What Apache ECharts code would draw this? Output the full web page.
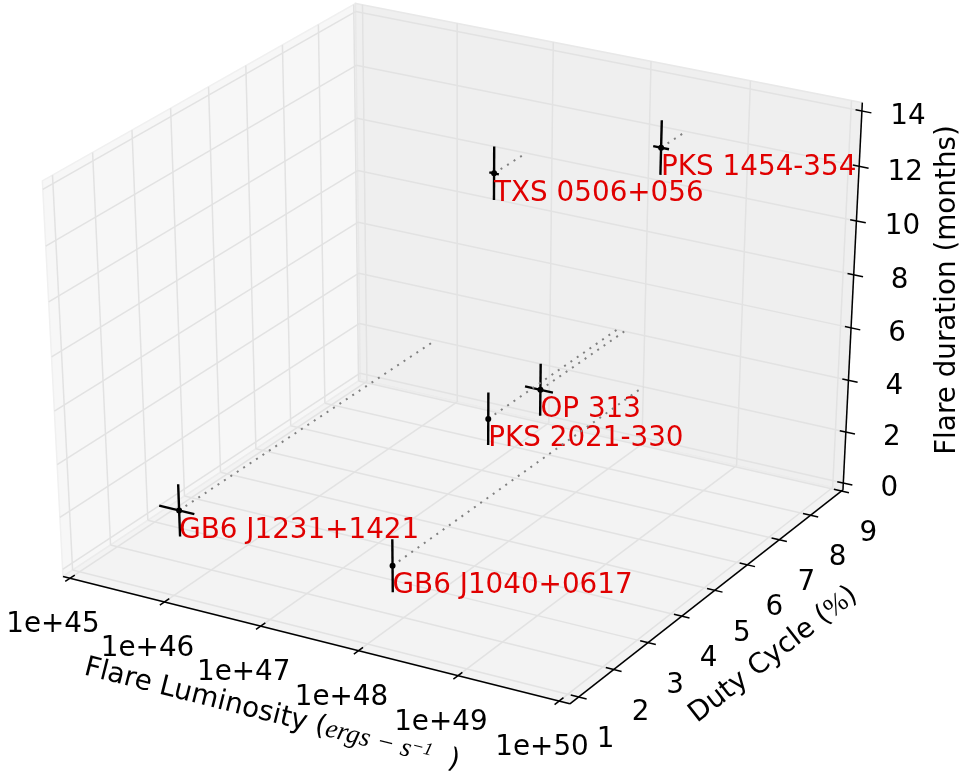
<!DOCTYPE html>
<html>
<head>
<meta charset="utf-8">
<script src="https://cdn.jsdelivr.net/npm/echarts@6/dist/echarts.min.js"></script>
<style>
html,body{margin:0;padding:0;background:#fff;}
#chart{width:976px;height:776px;}
</style>
</head>
<body>
<div id="chart"></div>
<script>
// ---------------- data ----------------
const sourceNames   = ['GB6 J1231+1421', 'TXS 0506+056', 'PKS 1454-354', 'OP 313', 'PKS 2021-330', 'GB6 J1040+0617'];
const logLuminosity = [45.76, 46.73, 48.37, 47.79, 47.71, 48.00];
const logLumLow     = [45.55, 46.68, 48.29, 47.63, 47.69, 47.98];
const logLumHigh    = [45.92, 46.78, 48.45, 47.92, 47.73, 48.02];
const dutyCycle     = [1.8, 8.1, 8.3, 6.5, 5.2, 1.7];
const flareDuration = [2, 10, 12, 4, 4, 2];
const durationErr   = [1, 1, 1, 1, 1, 1];

const xTickValues = [45, 46, 47, 48, 49, 50];
const xTickLabels = ['1e+45', '1e+46', '1e+47', '1e+48', '1e+49', '1e+50'];
const yTickValues = [1, 2, 3, 4, 5, 6, 7, 8, 9];
const yTickLabels = ['1', '2', '3', '4', '5', '6', '7', '8', '9'];
const zTickValues = [0, 2, 4, 6, 8, 10, 12, 14];
const zTickLabels = ['0', '2', '4', '6', '8', '10', '12', '14'];

const X_RANGE = [44.925, 50.106];
const Y_RANGE = [0.75, 9.05];
const Z_RANGE = [-0.27, 14.30];

// ---------------- 3D view (mplot3d style) ----------------
const ELEV = 30, AZIM = -60, DIST = 10;
const W = 976, H = 776;
const OX = 459, SX = 5851, OY = 341.7, SY = 4516;

const deg = Math.PI / 180;
const dot = (p, q) => p[0] * q[0] + p[1] * q[1] + p[2] * q[2];
const N3 = [Math.cos(ELEV * deg) * Math.cos(AZIM * deg), Math.cos(ELEV * deg) * Math.sin(AZIM * deg), Math.sin(ELEV * deg)];
let U3 = [-N3[1], N3[0], 0];
const ul = Math.hypot(U3[0], U3[1], U3[2]);
U3 = U3.map(v => v / ul);
const V3 = [N3[1] * U3[2] - N3[2] * U3[1], N3[2] * U3[0] - N3[0] * U3[2], N3[0] * U3[1] - N3[1] * U3[0]];

function proj(q) {
  const d = DIST - dot(N3, q);
  return [dot(U3, q) / d, dot(V3, q) / d];
}
const nx = v => (v - X_RANGE[0]) / (X_RANGE[1] - X_RANGE[0]) - 0.5;
const ny = v => (v - Y_RANGE[0]) / (Y_RANGE[1] - Y_RANGE[0]) - 0.5;
const nz = v => (v - Z_RANGE[0]) / (Z_RANGE[1] - Z_RANGE[0]) - 0.5;

const FONT = 'DejaVu Sans';
const FS = 27.8;

function seg(p1, p2, style) {
  return { type: 'line', silent: true, shape: { x1: p1[0], y1: p1[1], x2: p2[0], y2: p2[1] }, style: style };
}
function txt(p, dx, dy, text, extra) {
  return Object.assign({
    type: 'text', silent: true, x: p[0] + dx, y: p[1] + dy,
    style: { text: text, fill: '#000', fontFamily: FONT, fontSize: FS, align: 'center', verticalAlign: 'middle' }
  }, extra || {});
}

function renderFrame(params, api) {
  const P = (a, b, c) => api.coord(proj([a, b, c]));
  const ch = [];
  const poly = (pts, fill, stroke) => ({ type: 'polygon', silent: true, shape: { points: pts }, style: { fill: fill, stroke: stroke, lineWidth: 1.5 } });
  // panes
  ch.push(poly([P(-.5, -.5, -.5), P(-.5, .5, -.5), P(-.5, .5, .5), P(-.5, -.5, .5)], '#f7f7f7', '#f0f0f0'));
  ch.push(poly([P(-.5, .5, -.5), P(.5, .5, -.5), P(.5, .5, .5), P(-.5, .5, .5)], '#efefef', '#e8e8e8'));
  ch.push(poly([P(-.5, -.5, -.5), P(.5, -.5, -.5), P(.5, .5, -.5), P(-.5, .5, -.5)], '#f3f3f3', '#ececec'));
  // grid
  const G = { stroke: '#e2e2e2', lineWidth: 1.5 };
  xTickValues.forEach(v => { const a = nx(v); ch.push(seg(P(a, -.5, -.5), P(a, .5, -.5), G)); ch.push(seg(P(a, .5, -.5), P(a, .5, .5), G)); });
  yTickValues.forEach(v => { const b = ny(v); ch.push(seg(P(-.5, b, -.5), P(.5, b, -.5), G)); ch.push(seg(P(-.5, b, -.5), P(-.5, b, .5), G)); });
  zTickValues.forEach(v => { const c = nz(v); ch.push(seg(P(-.5, -.5, c), P(-.5, .5, c), G)); ch.push(seg(P(-.5, .5, c), P(.5, .5, c), G)); });
  // axis lines
  const A = { stroke: '#000', lineWidth: 1.5 };
  ch.push(seg(P(-.5, -.5, -.5), P(.5, -.5, -.5), A));
  ch.push(seg(P(.5, -.5, -.5), P(.5, .5, -.5), A));
  ch.push(seg(P(.5, .5, -.5), P(.5, .5, .5), A));
  // ticks + labels
  xTickValues.forEach((v, i) => { const a = nx(v); ch.push(seg(P(a, -.515, -.5), P(a, -.485, -.5), A)); ch.push(txt(P(a, -.5, -.5), -17, 47, xTickLabels[i])); });
  yTickValues.forEach((v, i) => { const b = ny(v); ch.push(seg(P(.485, b, -.5), P(.515, b, -.5), A)); ch.push(txt(P(.5, b, -.5), 27, 43, yTickLabels[i])); });
  zTickValues.forEach((v, i) => { const c = nz(v); ch.push(seg(P(.488, .5, c), P(.518, .5, c), A)); ch.push(txt(P(.5, .5, c), 46, 6, zTickLabels[i])); });
  // axis titles
  const xm = P(0, -.5, -.5), ym = P(.5, 0, -.5), zm = P(.5, .5, 0);
  ch.push({
    type: 'text', silent: true, x: xm[0] - 38, y: xm[1] + 72, rotation: -14.2 * deg,
    style: {
      text: '{a|Flare Luminosity (}{m|ergs \u2212 s}{s|\u22121}{a|  )}',
      align: 'center', verticalAlign: 'middle', fill: '#000',
      rich: {
        a: { fontFamily: FONT, fontSize: FS, lineHeight: 36, verticalAlign: 'bottom' },
        m: { fontFamily: 'Liberation Serif', fontStyle: 'italic', fontSize: 27, lineHeight: 26, verticalAlign: 'bottom' },
        s: { fontFamily: 'Liberation Serif', fontStyle: 'italic', fontSize: 18, lineHeight: 18, verticalAlign: 'middle' }
      }
    }
  });
  ch.push({
    type: 'text', silent: true, x: ym[0] + 62, y: ym[1] + 62, rotation: 37.8 * deg,
    style: {
      text: '{a|Duty Cycle (}{p|%}{a|)}',
      align: 'center', verticalAlign: 'middle', fill: '#000',
      rich: {
        a: { fontFamily: FONT, fontSize: FS },
        p: { fontFamily: 'Liberation Serif', fontSize: FS }
      }
    }
  });
  ch.push(txt(zm, 95, -11, 'Flare duration (months)', { rotation: 90 * deg }));
  return { type: 'group', children: ch };
}

function renderSources(params, api) {
  const P = (a, b, c) => api.coord(proj([a, b, c]));
  const lum = api.value(0), duty = api.value(1), dur = api.value(2);
  const lo = api.value(3), hi = api.value(4), de = api.value(5);
  const a = nx(lum), b = ny(duty), c = nz(dur);
  const p = P(a, b, c);
  const L = { stroke: '#000', lineWidth: 2.4 };
  const ch = [];
  ch.push(seg(p, P(a, .5, c), { stroke: '#808080', lineWidth: 2, lineDash: [2, 5.7] }));
  ch.push(seg(P(a, b, nz(dur - de)), P(a, b, nz(dur + de)), L));
  ch.push(seg(P(nx(lo), b, c), P(nx(hi), b, c), L));
  ch.push({ type: 'circle', silent: true, shape: { cx: p[0], cy: p[1], r: 3 }, style: { fill: '#000' } });
  ch.push({
    type: 'text', silent: true, x: p[0], y: p[1] + 20,
    style: { text: sourceNames[params.dataIndex], fill: '#e00000', fontFamily: FONT, fontSize: FS, align: 'left', verticalAlign: 'middle' }
  });
  return { type: 'group', children: ch };
}

const chart = echarts.init(document.getElementById('chart'), null, { renderer: 'canvas' });
chart.setOption({
  animation: false,
  backgroundColor: '#ffffff',
  grid: { left: 0, right: 0, top: 0, bottom: 0, containLabel: false },
  xAxis: { type: 'value', min: -OX / SX, max: (W - OX) / SX, show: false },
  yAxis: { type: 'value', min: (OY - H) / SY, max: OY / SY, show: false },
  series: [
    { type: 'custom', renderItem: renderFrame, data: [[0, 0]], clip: false, silent: true },
    {
      type: 'custom', renderItem: renderSources, clip: false, silent: true,
      data: sourceNames.map((n, i) => [logLuminosity[i], dutyCycle[i], flareDuration[i], logLumLow[i], logLumHigh[i], durationErr[i]])
    }
  ]
});
</script>
</body>
</html>
